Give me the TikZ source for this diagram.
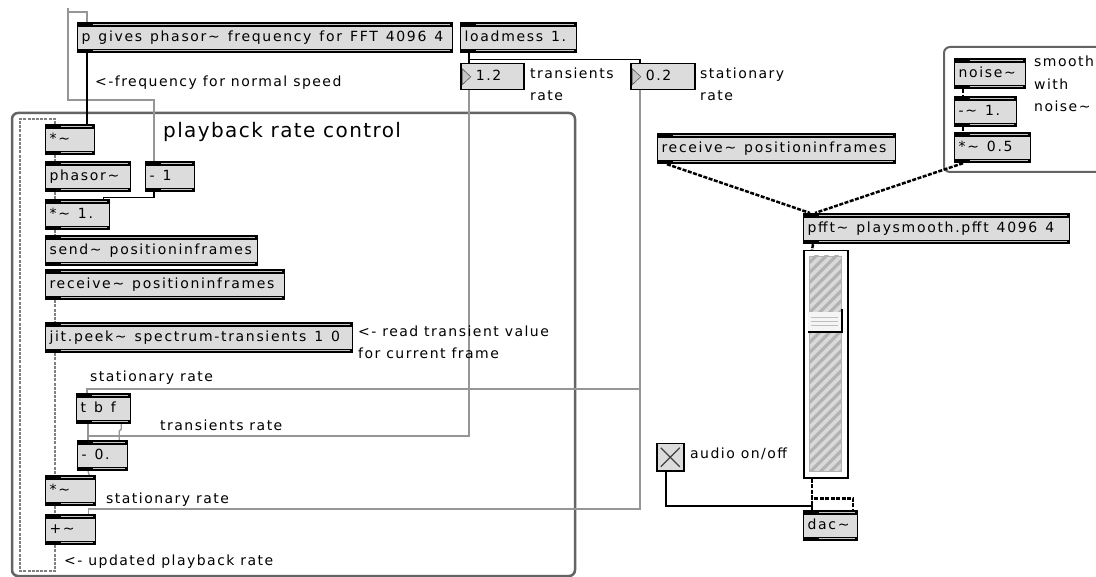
\documentclass[tikz,border=0pt]{standalone}
\usepackage{fontspec}
\usetikzlibrary{backgrounds}
\newfontfamily\maxfont[LetterSpace=12,WordSpace=1.3]{DejaVu Sans}
\newfontfamily\cmtfont[LetterSpace=10.5]{DejaVu Sans}
\newfontfamily\maxbig[LetterSpace=7]{DejaVu Sans}
\definecolor{boxgray}{RGB}{220,220,220}
\definecolor{panelgray}{RGB}{100,100,100}
\definecolor{cordgray}{RGB}{150,150,150}

\begin{document}
\begin{tikzpicture}[x=1pt,y=-1pt,
  obj/.style={draw, fill=boxgray, line width=1.2pt, anchor=north west,
    inner xsep=4pt, inner ysep=0pt, minimum height=30pt,
    text height=10pt, text depth=3pt, font={\fontsize{14}{22}\maxfont},
    execute at begin node={\hbox to #1\bgroup}, execute at end node={\hfil\egroup},
    path picture={
      \fill[black] (path picture bounding box.north west) rectangle ([yshift=-4pt]path picture bounding box.north east);
      \fill[black] (path picture bounding box.south west) rectangle ([yshift=4pt]path picture bounding box.south east);
      \draw[gray!45, line width=1pt] ([xshift=15pt,yshift=-2pt]path picture bounding box.north west)
        -- ([xshift=-3pt,yshift=-2pt]path picture bounding box.north east);
      \draw[gray!45, line width=1pt] ([xshift=15pt,yshift=2pt]path picture bounding box.south west)
        -- ([xshift=-3pt,yshift=2pt]path picture bounding box.south east);
    }},
  numbox/.style={draw, fill=boxgray, line width=1.5pt, anchor=north west, inner sep=0pt,
    minimum height=26pt, text height=10pt, text depth=3pt, font={\fontsize{14}{22}\maxfont},
    execute at begin node={\hbox to #1\bgroup\hspace*{15pt}}, execute at end node={\hfil\egroup},
    path picture={
      \filldraw[fill=gray!45, draw=gray!70!black, line width=0.6pt]
        ([xshift=1.5pt,yshift=-5pt]path picture bounding box.north west)
        -- ([xshift=10pt,yshift=-13pt]path picture bounding box.north west)
        -- ([xshift=1.5pt,yshift=-21pt]path picture bounding box.north west) -- cycle;
    }},
  cmt/.style={anchor=base west, inner sep=0pt, align=left, font={\fontsize{14}{22.5}\cmtfont}},
  ctl/.style={black, line width=1.3pt},
  gcord/.style={cordgray, line width=1.3pt},
  gsig/.style={black!50, line width=2.2pt, dash pattern=on 3pt off 1.2pt},
  bsig/.style={black, line width=2.5pt, dash pattern=on 4pt off 1.5pt},
  panel/.style={panelgray, line width=2.5pt, rounded corners=6pt}]

  \useasboundingbox (0,0) rectangle (1096,577);

  % top row
  \node[obj=367pt] (pgives) at (77,22) {p gives phasor\~{} frequency for FFT 4096 4};
  \node[obj=108pt] (loadmess) at (460,22) {loadmess 1.};
  \node[numbox=63pt] (transnum) at (460,63) {1.2};
  \node[numbox=64pt] (statnum) at (630,63) {0.2};
  \node[cmt] (freqcmt) at (95,87) {<-frequency for normal speed};
  \node[cmt] (transcmt) at (530,101) {transients\\rate};
  \node[cmt] (statcmt) at (700,101) {stationary\\rate};

  % playback rate control
  \node[cmt, font={\fontsize{20}{24}\maxbig}] (title) at (163,138) {playback rate control};
  \node[obj=41pt] (multa) at (45,124) {*\~{}};
  \node[obj=77pt] (phasor) at (45,161) {phasor\~{}};
  \node[obj=41pt] (minusone) at (145,161) {- 1};
  \node[obj=56pt] (multone) at (45,199) {*\~{} 1.};
  \node[obj=204pt] (sendpos) at (45,235) {send\~{} positioninframes};
  \node[obj=231pt] (recvpos) at (45,269) {receive\~{} positioninframes};
  \node[obj=299pt] (peek) at (45,322) {jit.peek\~{} spectrum-transients 1 0};
  \node[cmt] (peekcmt) at (358,359) {<- read transient value\\for current frame};
  \node[cmt] (statcmta) at (90,382) {stationary rate};
  \node[obj=46pt] (tbf) at (76,393) {t b f};
  \node[cmt] (transcmtb) at (160,431) {transients rate};
  \node[obj=42pt] (minuszero) at (77,440) {- 0.};
  \node[obj=42pt] (multb) at (45,475) {*\~{}};
  \node[cmt] (statcmtb) at (106,503) {stationary rate};
  \node[obj=42pt] (plus) at (45,514) {+\~{}};
  \node[cmt] (updcmt) at (64,565) {<- updated playback rate};

  % right half
  \node[obj=230pt] (recvright) at (657,133) {receive\~{} positioninframes};
  \node[obj=63pt] (noise) at (954,58) {noise\~{}};
  \node[obj=54pt] (minusnoise) at (954,96) {-\~{} 1.};
  \node[obj=68pt] (multnoise) at (954,132) {*\~{} 0.5};
  \node[cmt] (smoothcmt) at (1034,112) {smooth\\with\\noise\~{}};
  \node[obj=258pt] (pfft) at (803,213) {pfft\~{} playsmooth.pfft 4096 4};
  \node[obj=46pt] (dac) at (803,510) {dac\~{}};
  \node[draw, line width=1.5pt, fill=white, anchor=north west, inner sep=0pt,
        minimum width=44pt, minimum height=227pt] (slider) at (803,250) {};
  \node[draw, line width=1.5pt, fill=boxgray, anchor=north west, inner sep=0pt,
        minimum size=27pt,
        path picture={
          \draw[black!75, line width=1.3pt] ([shift={(4pt,-4pt)}]path picture bounding box.north west)
            -- ([shift={(-4pt,4pt)}]path picture bounding box.south east);
          \draw[black!75, line width=1.3pt] ([shift={(-4pt,-4pt)}]path picture bounding box.north east)
            -- ([shift={(4pt,4pt)}]path picture bounding box.south west);
        }] (toggle) at (656,443) {};
  \node[cmt] (audiocmt) at (690,459) {audio on/off};

  % slider hatching and knob
  \begin{scope}
    \clip (809,256) rectangle (841,471);
    \fill[gray!30] (809,256) rectangle (841,471);
    \foreach \k in {0,10,...,260}
      \draw[gray!60, line width=3pt] (800,262+\k) -- ++(50,-50);
  \end{scope}
  \draw[gray!60, line width=0.6pt] (809,256) rectangle (841,471);
  \fill[gray!8] (808,312) rectangle (842,332);                    % knob
  \foreach \k in {317,321,325}
    \draw[gray!50, line width=0.8pt] (811,\k) -- (838,\k);
  \draw[black, line width=1.3pt] (808,332) -- (842,332) -- (842,309); % knob shadow

  \coordinate (topin) at (68,8);

  \begin{scope}[on background layer]
    \fill[white] (0,0) rectangle (1096,577);
    \draw[panel] (12,113) rectangle (575,576);                     % playback panel
    \draw[panel, line width=2pt] (944,47) rectangle (1110,172);    % noise panel

    % control cords
    \draw[gcord] (topin) -- ++(0,92) -| ([xshift=9pt]minusone.north west);
    \draw[gcord] (topin) ++(0,4) -| ([xshift=10pt]pgives.north west);
    \draw[ctl] ([xshift=10pt]pgives.south west) -- ([xshift=10pt]pgives.south west |- multa.north);
    \draw[ctl] ([xshift=9pt]loadmess.south west) -- ([xshift=9pt]transnum.north west);
    \draw[ctl] ([xshift=9pt]loadmess.south west) -- ++(0,6) -| ([xshift=10pt]statnum.north west);
    \draw[ctl] ([xshift=9pt]minusone.south west) -- ++(0,5) -| ([xshift=-7pt]multone.north east);
    \draw[gcord] ([xshift=9pt]transnum.south west) |- ([xshift=11pt,yshift=4pt]minuszero.north west);
    \draw[gcord] ([xshift=10pt]statnum.south west) |- ([xshift=11pt,yshift=4pt]tbf.north west)
      -- ([xshift=11pt]tbf.north west);
    \draw[gcord] ([xshift=10pt]statnum.south west) |- ([xshift=-8pt,yshift=5pt]plus.north east)
      -- ([xshift=-8pt]plus.north east);
    \draw[gcord] ([xshift=12pt]tbf.south west) -- ([xshift=11pt]minuszero.north west);
    \draw[gcord] ([xshift=-10pt]tbf.south east) -- ++(0,5) -- ++(-2,2) -- ([xshift=-9pt]minuszero.north east);
    \draw[gcord] ([xshift=11pt]minuszero.south west) -- ([xshift=-7pt]multb.north east);
    \draw[ctl] ([xshift=10pt]toggle.south west) |- ([xshift=9pt,yshift=4pt]dac.north west)
      -- ([xshift=9pt]dac.north west);

    % signal cords
    \draw[gsig] ([xshift=10pt]multa.south west) -- ([xshift=10pt]phasor.north west);
    \draw[gsig] ([xshift=10pt]phasor.south west) -- ([xshift=10pt]multone.north west);
    \draw[gsig] ([xshift=10pt]multone.south west) -- ([xshift=10pt]sendpos.north west);
    \draw[gsig] ([xshift=10pt]recvpos.south west) -- ([xshift=10pt]peek.north west);
    \draw[gsig] ([xshift=10pt]peek.south west) -- ([xshift=10pt]multb.north west);
    \draw[gsig] ([xshift=10pt]multb.south west) -- ([xshift=10pt]plus.north west);
    \draw[gsig] ([xshift=10pt]plus.south west) -- ++(0,26) -- ++(-35,0)
      |- ([xshift=10pt,yshift=5pt]multa.north west) -- ([xshift=10pt]multa.north west);
    \draw[bsig] ([xshift=10pt]recvright.south west) -- ([xshift=7pt]pfft.north west);
    \draw[bsig] ([xshift=9pt]multnoise.south west) -- ([xshift=12pt]pfft.north west);
    \draw[bsig] ([xshift=9pt]noise.south west) -- ([xshift=9pt]minusnoise.north west);
    \draw[bsig] ([xshift=9pt]minusnoise.south west) -- ([xshift=9pt]multnoise.north west);
    \draw[bsig] ([xshift=10pt]pfft.south west) -- ([xshift=9pt]slider.north west);
    \draw[bsig] ([xshift=9pt]slider.south west) -- ([xshift=9pt]dac.north west);
    \draw[bsig] ([xshift=9pt]slider.south west) -- ++(0,20) -| ([xshift=-5pt]dac.north east);
  \end{scope}

\end{tikzpicture}
\end{document}
